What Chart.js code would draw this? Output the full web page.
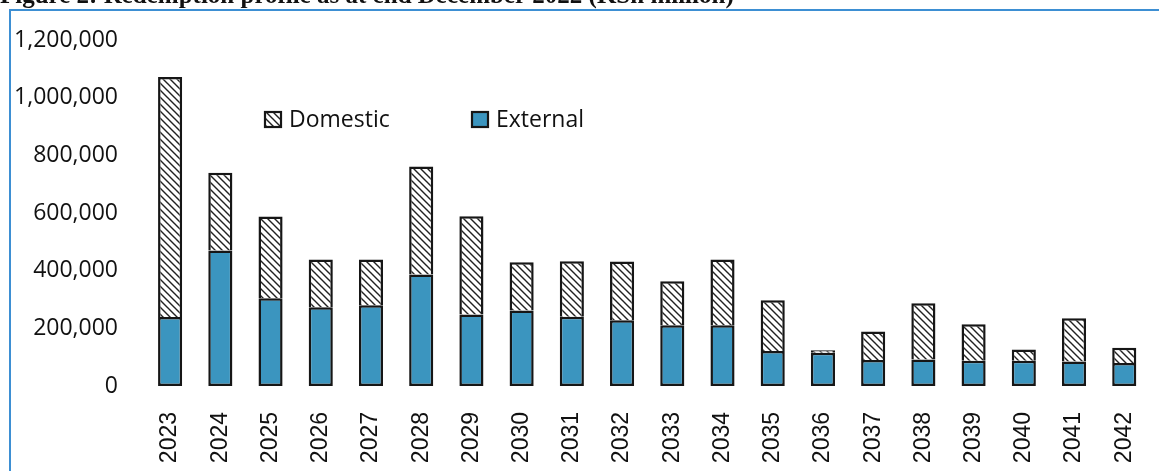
<!DOCTYPE html>
<html>
<head>
<meta charset="utf-8">
<script src="https://cdn.jsdelivr.net/npm/chart.js@4/dist/chart.umd.min.js"></script>
<style>
  html, body { margin: 0; padding: 0; background: #fff; overflow: hidden; }
  #grafica { display: block; }
</style>
</head>
<body>
<canvas id="grafica" width="1170" height="471"></canvas>
<script>
// redemption profile, end December 2022
var anios = ['2023', '2024', '2025', '2026', '2027', '2028', '2029', '2030', '2031', '2032',
             '2033', '2034', '2035', '2036', '2037', '2038', '2039', '2040', '2041', '2042'];
var externo = [239000, 470000, 304000, 273000, 280000, 387000, 248000, 262000, 240000, 228000,
               211000, 211000, 121000, 115000, 90000, 92000, 88000, 88000, 85000, 80000];
var domestico = [833000, 270000, 284000, 166000, 159000, 374000, 341000, 167000, 193000, 204000,
                 152000, 228000, 176000, 9000, 99000, 195000, 126000, 39000, 150000, 53000];
var ejeY = [0, 200000, 400000, 600000, 800000, 1000000, 1200000];

var titulo = 'Figure 2: Redemption profile as at end December 2022 (KSh million)';
var azul = '#3b95bf';
var borde = '#161616';

// diagonal hatch for the domestic bars
function rayado(ctx) {
	var c = document.createElement('canvas');
	c.width = 7; c.height = 7;
	var g = c.getContext('2d');
	g.fillStyle = '#fff';
	g.fillRect(0, 0, 7, 7);
	g.strokeStyle = '#222';
	g.lineWidth = 1.4;
	g.beginPath();
	g.moveTo(-1, -1); g.lineTo(8, 8);
	g.moveTo(-8, -1); g.lineTo(1, 8);
	g.moveTo(6, -1); g.lineTo(15, 8);
	g.stroke();
	return ctx.createPattern(c, 'repeat');
}

var ctx = document.getElementById('grafica').getContext('2d');
var patron = rayado(ctx);

// frame, clipped title and legend
var extras = {
	id: 'extras',
	afterDraw: function(chart) {
		var c = chart.ctx;
		c.save();
		c.fillStyle = '#111';
		c.font = 'bold 25px "Liberation Serif"';
		c.textBaseline = 'alphabetic';
		c.textAlign = 'left';
		c.fillText(titulo, 0, 3);

		c.strokeStyle = '#3d8fd3';
		c.lineWidth = 2;
		c.beginPath();
		c.moveTo(10, 471);
		c.lineTo(10, 10);
		c.lineTo(1170, 10);
		c.stroke();

		var items = [
			{ texto: 'Domestic', x: 265, fill: patron },
			{ texto: 'External', x: 472, fill: azul }
		];
		items.forEach(function(it) {
			c.fillStyle = it.fill;
			c.fillRect(it.x, 112, 16, 15);
			c.strokeStyle = borde;
			c.lineWidth = 2.2;
			c.strokeRect(it.x, 112, 16, 15);
			c.fillStyle = '#111';
			c.font = '23px "Open Sans"';
			c.textBaseline = 'middle';
			c.fillText(it.texto, it.x + 24, 120);
		});
		c.restore();
	}
};

var chart = new Chart(ctx, {
	type: 'bar',
	data: {
		labels: anios,
		datasets: [{
			label: 'External',
			data: externo,
			backgroundColor: azul,
			borderColor: borde,
			borderWidth: 2.5,
			borderSkipped: false,
			barPercentage: 0.48,
			categoryPercentage: 1
		}, {
			label: 'Domestic',
			data: domestico,
			backgroundColor: patron,
			borderColor: borde,
			borderWidth: 2.5,
			borderSkipped: 'bottom',
			barPercentage: 0.48,
			categoryPercentage: 1
		}]
	},
	options: {
		responsive: false,
		animation: false,
		layout: { padding: { top: 40, right: 6, bottom: 0, left: 0 } },
		plugins: {
			legend: { display: false },
			tooltip: { enabled: false }
		},
		scales: {
			x: {
				stacked: true,
				grid: { display: false },
				border: { display: false },
				ticks: {
					color: '#111',
					font: { family: '"Liberation Sans"', size: 23 },
					minRotation: 90,
					maxRotation: 90,
					padding: 18
				},
				afterFit: function(scale) { scale.height = 85; }
			},
			y: {
				stacked: true,
				min: 0,
				max: 1200000,
				grid: { display: false },
				border: { display: false },
				afterBuildTicks: function(scale) {
					scale.ticks = ejeY.map(function(v) { return { value: v }; });
				},
				ticks: {
					color: '#111',
					font: { family: '"Open Sans"', size: 23 },
					padding: 19,
					callback: function(v) { return v.toLocaleString('en-US'); }
				},
				afterFit: function(scale) { scale.width = 145; }
			}
		}
	},
	plugins: [extras]
});
</script>
</body>
</html>
